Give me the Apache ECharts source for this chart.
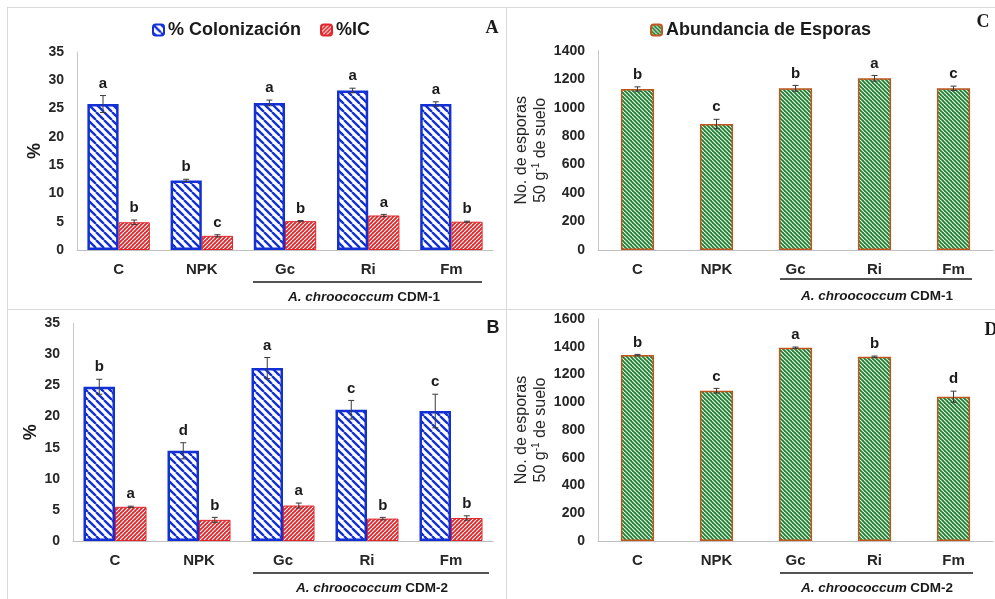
<!DOCTYPE html>
<html><head><meta charset="utf-8">
<script src="https://cdn.jsdelivr.net/npm/echarts@6/dist/echarts.min.js"></script>
<style>html,body{margin:0;padding:0;background:#fff}#c{width:995px;height:599px}</style>
</head><body><div id="c"></div>
<script>
// ---------- DATA ----------
const categories = ['C', 'NPK', 'Gc', 'Ri', 'Fm'];
const pctTicks = [0, 5, 10, 15, 20, 25, 30, 35];
const sporeTicksC = [0, 200, 400, 600, 800, 1000, 1200, 1400];
const sporeTicksD = [0, 200, 400, 600, 800, 1000, 1200, 1400, 1600];

// Panel A (CDM-1)
const colA = [25.8, 12.3, 26.0, 28.2, 25.8];
const colAErr = [1.5, 0.2, 0.5, 0.4, 0.4];
const colALetters = ['a', 'b', 'a', 'a', 'a'];
const icA = [4.9, 2.5, 5.1, 6.1, 5.0];
const icAErr = [0.4, 0.2, 0.1, 0.2, 0.1];
const icALetters = ['b', 'c', 'b', 'a', 'b'];

// Panel B (CDM-2)
const colB = [24.8, 14.5, 27.8, 21.1, 20.9];
const colBErr = [1.2, 1.3, 1.7, 1.5, 2.7];
const colBLetters = ['b', 'd', 'a', 'c', 'c'];
const icB = [5.5, 3.4, 5.7, 3.6, 3.7];
const icBErr = [0.1, 0.4, 0.4, 0.2, 0.35];
const icBLetters = ['a', 'b', 'a', 'b', 'b'];

// Panel C (CDM-1) spores
const sporesC = [1131, 885, 1136, 1206, 1136];
const sporesCErr = [15, 33, 20, 20, 15];
const sporesCLetters = ['b', 'c', 'b', 'a', 'c'];

// Panel D (CDM-2) spores
const sporesD = [1340, 1083, 1393, 1328, 1040];
const sporesDErr = [5, 17, 5, 5, 40];
const sporesDLetters = ['b', 'c', 'a', 'b', 'd'];

const subgroup1 = ['A. chroococcum', 'CDM-1'];
const subgroup2 = ['A. chroococcum', 'CDM-2'];
const nameCol = '% Colonización', nameIC = '%IC', nameSp = 'Abundancia de Esporas';

// ---------- STYLE ----------
const FONT = '"Liberation Sans", Arial, sans-serif';
const SERIF = '"Liberation Serif", "Times New Roman", serif';
function stripes(bg, fg, p, lw, dir) {
  const c = document.createElement('canvas');
  c.width = p; c.height = p;
  const g = c.getContext('2d');
  g.fillStyle = bg; g.fillRect(0, 0, p, p);
  g.strokeStyle = fg; g.lineWidth = lw; g.beginPath();
  for (let k = -2; k <= 3; k++) {
    if (dir === '\\') { g.moveTo(k * p, 0); g.lineTo(k * p + p, p); }
    else { g.moveTo(k * p, 0); g.lineTo(k * p - p, p); }
  }
  g.stroke();
  return { image: c, repeat: 'repeat' };
}
const BLUE = '#1230d4', RED = '#e0262a', GREEN = '#1f7f35', BROWN = '#c0561e';
const blueFill = stripes('#ffffff', BLUE, 8, 2.3, '\\');
const redFill = stripes(RED, '#ffffff', 4, 1.1, '/');
const greenFill = stripes(GREEN, '#e8f5e4', 4, 1.2, '\\');

const grids = [
  { left: 77, top: 52, width: 416, height: 198 },   // A
  { left: 598, top: 50.7, width: 395, height: 199.3 }, // C
  { left: 73, top: 323.3, width: 420, height: 217.7 }, // B
  { left: 598, top: 319, width: 395, height: 222 }   // D
];
const GAP2 = 0.25, GAP1 = 0.58;

function xAxis(gi) {
  return {
    type: 'category', gridIndex: gi, data: categories,
    axisLine: { lineStyle: { color: '#bfbfbf', width: 1 } },
    axisTick: { show: false },
    axisLabel: { margin: 12, fontFamily: FONT, fontWeight: 'bold', fontSize: 15, color: '#262626' }
  };
}
function yAxis(gi, ticks, name, gap, isPct) {
  const nts = isPct ? { fontFamily: FONT, fontWeight: 'bold', fontSize: 18, color: '#1a1a1a' } : {
    fontFamily: FONT, fontWeight: 'normal', fontSize: 16, color: '#262626', lineHeight: 19,
    rich: { t: { fontFamily: FONT, fontSize: 16, color: '#262626', lineHeight: 19 },
            s: { fontFamily: FONT, fontSize: 10, color: '#262626', lineHeight: 19, verticalAlign: 'top', padding: [0, 0, 6, 0] } }
  };
  return {
    type: 'value', gridIndex: gi, min: ticks[0], max: ticks[ticks.length - 1],
    interval: ticks[1] - ticks[0],
    splitLine: { show: false },
    axisLine: { show: true, lineStyle: { color: '#c8c8c8', width: 1 } },
    axisTick: { show: false },
    axisLabel: { margin: 13, fontFamily: FONT, fontWeight: 'bold', fontSize: 14, color: '#262626', formatter: v => String(v) },
    name: name, nameLocation: 'middle', nameGap: gap,
    nameTextStyle: nts
  };
}
function bar(gi, name, values, fill, border, bw, gap) {
  return {
    type: 'bar', name: name, xAxisIndex: gi, yAxisIndex: gi, data: values,
    barGap: '0%', barCategoryGap: (gap * 100) + '%',
    itemStyle: { color: fill, borderColor: border, borderWidth: bw },
    emphasis: { disabled: true }, animation: false
  };
}
function errLetters(gi, values, errs, letters, offset, nBars, gap) {
  return {
    type: 'custom', xAxisIndex: gi, yAxisIndex: gi, z: 5, silent: true, animation: false,
    data: values.map((v, i) => [i, v, errs[i]]),
    renderItem: function (params, api) {
      const i = api.value(0), v = api.value(1), e = api.value(2);
      const band = api.size([1, 0])[0];
      const bw = band * (1 - gap) / nBars;
      const x = api.coord([i, v])[0] + offset * bw;
      const yT = api.coord([i, v + e])[1], yB = api.coord([i, v - e])[1];
      const st = { stroke: '#3a3a3a', lineWidth: 1 };
      return {
        type: 'group', children: [
          { type: 'line', shape: { x1: x, y1: yT, x2: x, y2: yB }, style: st },
          { type: 'line', shape: { x1: x - 3, y1: yT, x2: x + 3, y2: yT }, style: st },
          { type: 'line', shape: { x1: x - 3, y1: yB, x2: x + 3, y2: yB }, style: st },
          { type: 'text', x: x, y: yT - 12, style: { text: letters[i], fill: '#1a1a1a', fontFamily: FONT, fontWeight: 'bold', fontSize: 15, align: 'center', verticalAlign: 'middle' } }
        ]
      };
    }
  };
}

const graphicEls = [];
const lineSt = { stroke: '#d9d9d9', lineWidth: 1 };
graphicEls.push({ type: 'line', shape: { x1: 7, y1: 7.5, x2: 995, y2: 7.5 }, style: lineSt });
graphicEls.push({ type: 'line', shape: { x1: 7, y1: 309.5, x2: 995, y2: 309.5 }, style: lineSt });
graphicEls.push({ type: 'line', shape: { x1: 7.5, y1: 7, x2: 7.5, y2: 599 }, style: lineSt });
graphicEls.push({ type: 'line', shape: { x1: 506.5, y1: 7, x2: 506.5, y2: 599 }, style: lineSt });
function underline(x1, x2, y, ty, cx, sg) {
  graphicEls.push({ type: 'line', shape: { x1: x1, y1: y, x2: x2, y2: y }, style: { stroke: '#1a1a1a', lineWidth: 1.6 } });
  graphicEls.push({ type: 'text', x: cx, y: ty, style: {
    text: '{i|' + sg[0] + '} {n|' + sg[1] + '}', align: 'center', verticalAlign: 'middle',
    rich: { i: { fontFamily: FONT, fontStyle: 'italic', fontWeight: 'bold', fontSize: 13.5, fill: '#1a1a1a' },
            n: { fontFamily: FONT, fontWeight: 'bold', fontSize: 13.5, fill: '#1a1a1a' } } } });
}
underline(253, 482, 282, 297, 364, subgroup1);
underline(780, 972, 279, 296, 877, subgroup1);
underline(253, 489, 573, 588, 372, subgroup2);
underline(780, 973, 573, 588, 877, subgroup2);
function panelLetter(t, x, y, fam) {
  graphicEls.push({ type: 'text', x: x, y: y, style: { text: t, fontFamily: fam, fontWeight: 'bold', fontSize: 18, fill: '#1a1a1a', align: 'center', verticalAlign: 'middle' } });
}
panelLetter('A', 492, 28, SERIF);
panelLetter('C', 983, 22, SERIF);
panelLetter('B', 493, 328, FONT);
panelLetter('D', 991, 330, SERIF);

const option = {
  backgroundColor: '#ffffff',
  animation: false,
  grid: grids,
  legend: [
    { left: 147, top: 16, itemWidth: 11, itemHeight: 11, itemGap: 19, data: [nameCol, nameIC],
      textStyle: { fontFamily: FONT, fontWeight: 'bold', fontSize: 18, color: '#1a1a1a', padding: [0, 0, 0, -1] }, selectedMode: false },
    { left: 645, top: 16, itemWidth: 11, itemHeight: 11, data: [nameSp],
      textStyle: { fontFamily: FONT, fontWeight: 'bold', fontSize: 18, color: '#1a1a1a', padding: [0, 0, 0, -1] }, selectedMode: false }
  ],
  xAxis: [xAxis(0), xAxis(1), xAxis(2), xAxis(3)],
  yAxis: [
    yAxis(0, pctTicks, '%', 31, true),
    yAxis(1, sporeTicksC, '{t|No. de esporas}\n{t|50 g}{s|-1}{t| de suelo}', 46, false),
    yAxis(2, pctTicks, '%', 31, true),
    yAxis(3, sporeTicksD, '{t|No. de esporas}\n{t|50 g}{s|-1}{t| de suelo}', 46, false)
  ],
  series: [
    bar(0, nameCol, colA, blueFill, BLUE, 2.5, GAP2),
    bar(0, nameIC, icA, redFill, RED, 1, GAP2),
    errLetters(0, colA, colAErr, colALetters, -0.5, 2, GAP2),
    errLetters(0, icA, icAErr, icALetters, 0.5, 2, GAP2),
    bar(2, nameCol, colB, blueFill, BLUE, 2.5, GAP2),
    bar(2, nameIC, icB, redFill, RED, 1, GAP2),
    errLetters(2, colB, colBErr, colBLetters, -0.5, 2, GAP2),
    errLetters(2, icB, icBErr, icBLetters, 0.5, 2, GAP2),
    bar(1, nameSp, sporesC, greenFill, BROWN, 1.5, GAP1),
    errLetters(1, sporesC, sporesCErr, sporesCLetters, 0, 1, GAP1),
    bar(3, nameSp, sporesD, greenFill, BROWN, 1.5, GAP1),
    errLetters(3, sporesD, sporesDErr, sporesDLetters, 0, 1, GAP1)
  ],
  graphic: graphicEls
};
const chart = echarts.init(document.getElementById('c'), null, { renderer: 'canvas' });
chart.setOption(option);
</script>
</body></html>
